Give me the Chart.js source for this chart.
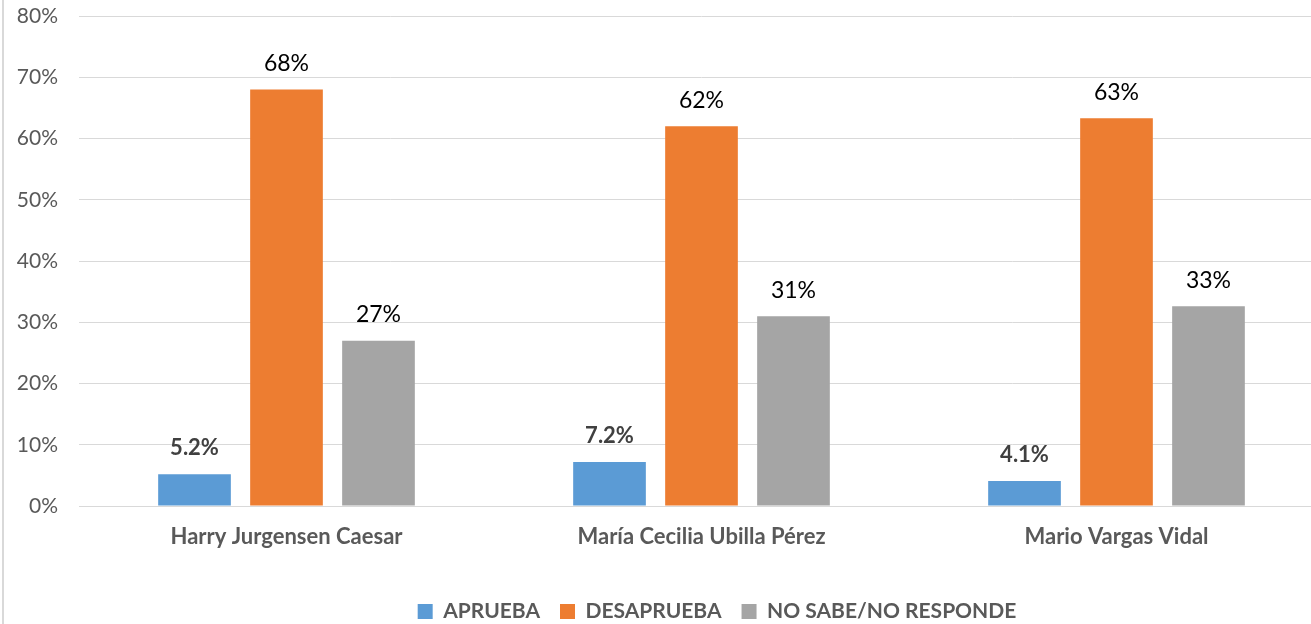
<!DOCTYPE html>
<html>
<head>
<meta charset="utf-8">
<script src="https://cdn.jsdelivr.net/npm/chart.js@4"></script>
<style>
  body { margin: 0; overflow: hidden; background: #fff; }
  #marco { position: absolute; left: 0; top: 0; width: 1340px; height: 632px; }
  #borde { position: absolute; left: 2px; top: 0; width: 2px; height: 624px; background: #d9d9d9; }
</style>
</head>
<body>
<div id="marco"><canvas id="grafico"></canvas></div>
<div id="borde"></div>
<script>
// datos
var candidatos = ['Harry Jurgensen Caesar', 'María Cecilia Ubilla Pérez', 'Mario Vargas Vidal'];
var aprueba = [5.2, 7.2, 4.1];
var desaprueba = [68, 62, 63.3];
var noSabe = [27, 31, 32.6];
var series = ['APRUEBA', 'DESAPRUEBA', 'NO SABE/NO RESPONDE'];
var ticksY = [0, 10, 20, 30, 40, 50, 60, 70, 80];

var color = ['#5B9BD5', '#ED7D31', '#A5A5A5'];
var fuente = 'Lato, "Noto Sans", sans-serif';

// etiquetas de datos sobre cada barra
var etiquetas = {
    id: 'etiquetas',
    afterDatasetsDraw: function(chart) {
        var ctx = chart.ctx;
        chart.data.datasets.forEach(function(ds, i) {
            var meta = chart.getDatasetMeta(i);
            meta.data.forEach(function(barra, j) {
                var v = ds.data[j];
                var txt;
                ctx.save();
                if (i === 0) {
                    ctx.font = 'bold 22px ' + fuente;
                    ctx.fillStyle = '#404040';
                    txt = v.toFixed(1) + '%';
                } else {
                    ctx.font = '23px ' + fuente;
                    ctx.fillStyle = '#000000';
                    txt = Math.round(v) + '%';
                }
                ctx.textAlign = 'center';
                ctx.textBaseline = 'middle';
                ctx.fillText(txt, barra.x, barra.y - 26);
                ctx.restore();
            });
        });
    }
};

// la leyenda de Excel queda un poco a la derecha
var moverLeyenda = {
    id: 'moverLeyenda',
    afterLayout: function(chart) {
        chart.legend.left += 55;
        chart.legend.right += 55;
    }
};

var chartdata = {
    labels: candidatos,
    datasets: [{
        label: series[0],
        data: aprueba,
        backgroundColor: color[0]
    }, {
        label: series[1],
        data: desaprueba,
        backgroundColor: color[1]
    }, {
        label: series[2],
        data: noSabe,
        backgroundColor: color[2]
    }]
};

var grafico = new Chart(document.getElementById('grafico'), {
    type: 'bar',
    data: chartdata,
    plugins: [etiquetas, moverLeyenda],
    options: {
        responsive: true,
        maintainAspectRatio: false,
        animation: false,
        categoryPercentage: 0.665,
        barPercentage: 0.79,
        layout: { padding: { top: 16, right: 16, left: 0, bottom: 0 } },
        plugins: {
            tooltip: { enabled: false },
            legend: {
                position: 'bottom',
                labels: {
                    boxWidth: 15,
                    boxHeight: 15,
                    padding: 20,
                    color: '#595959',
                    font: { family: fuente, size: 21, weight: 'bold' }
                }
            }
        },
        scales: {
            x: {
                grid: { display: false },
                border: { display: true, color: '#D9D9D9' },
                ticks: {
                    color: '#595959',
                    padding: 10,
                    font: { family: fuente, size: 22, weight: 'bold' }
                },
                afterFit: function(s) { s.height = 75; }
            },
            y: {
                min: 0,
                max: 80,
                afterBuildTicks: function(s) {
                    s.ticks = ticksY.map(function(v) { return { value: v }; });
                },
                grid: { color: '#D9D9D9', lineWidth: 1, drawTicks: false },
                border: { display: false },
                ticks: {
                    color: '#595959',
                    padding: 21,
                    font: { family: fuente, size: 21 },
                    callback: function(v) { return v + '%'; }
                },
                afterFit: function(s) {
                    s.width = 79;
                    s.paddingTop = 0;
                    s.paddingBottom = 0;
                }
            }
        }
    }
});
</script>
</body>
</html>
